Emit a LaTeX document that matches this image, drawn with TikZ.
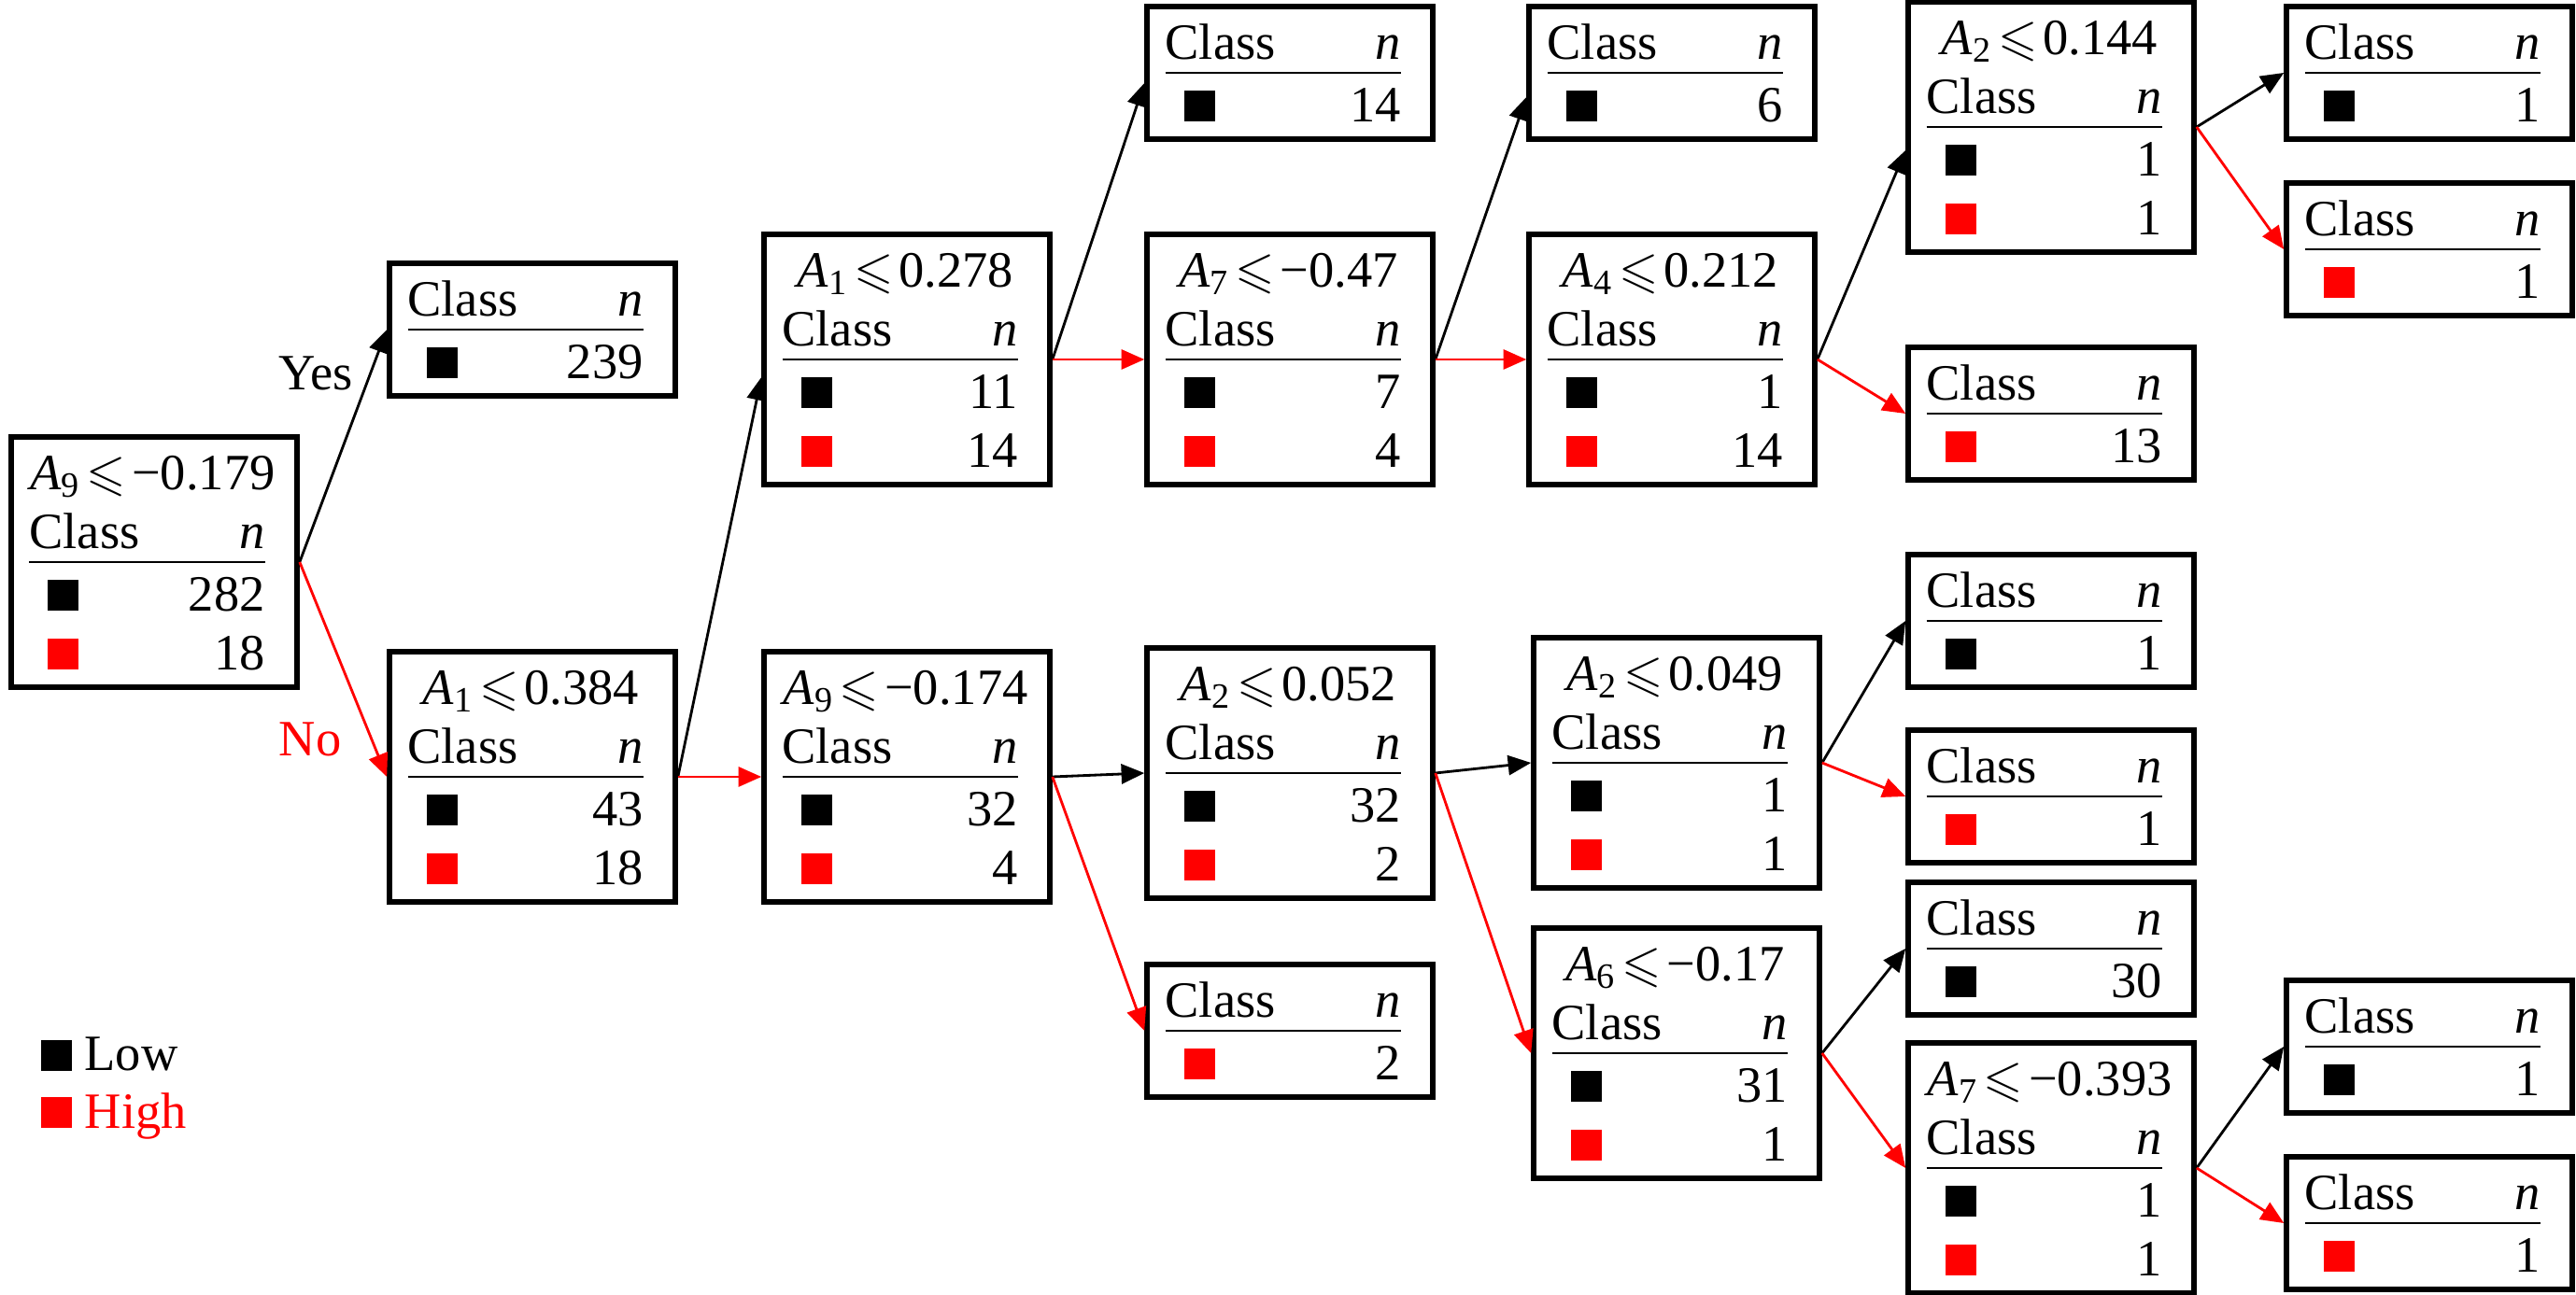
\documentclass[tikz,border=0pt]{standalone}
\usepackage{fontspec}
\setmainfont{Liberation Serif}
\usepackage{amssymb}
\usepackage{tikz}
\usetikzlibrary{arrows.meta}

\setlength{\arrayrulewidth}{0.8pt}
\newcommand{\lowsq}{\rule{0.33cm}{0.33cm}}
\newcommand{\highsq}{\textcolor{red}{\rule{0.33cm}{0.33cm}}}
\newcommand{\topstrut}{\rule{0pt}{16.2pt}}
\newcommand{\rowstrut}{\rule{0pt}{14.5pt}}
\newcommand{\cnd}[2]{\textit{A}\textsubscript{#1}\hspace{0.06cm}$\leqslant$\hspace{0.06cm}#2}
\newcommand{\splitnode}[3]{%
  \begin{tabular*}{2.52cm}{@{}l@{\extracolsep{\fill}}r@{}}
  \multicolumn{2}{@{}c@{}}{\topstrut\makebox[2.52cm][c]{\hspace{0.12cm}#1}}\\
  Class & \textit{n}\\ \noalign{\vskip-0.06cm}\hline
  \rowstrut\hspace*{0.2cm}\lowsq & #2\\
  \hspace*{0.2cm}\highsq & #3
  \end{tabular*}\hspace*{0.15cm}}
\newcommand{\leafnode}[2]{%
  \begin{tabular*}{2.52cm}{@{}l@{\extracolsep{\fill}}r@{}}
  \topstrut Class & \textit{n}\\ \noalign{\vskip-0.06cm}\hline
  \rowstrut\hspace*{0.2cm}#1 & #2
  \end{tabular*}\hspace*{0.15cm}}

\begin{document}
\begin{tikzpicture}[font = \fontsize{15.5}{17.9}\selectfont,
  splitbox/.style = {draw, line width = 1.6pt, inner sep = 0pt,
                     minimum width = 3.06cm, minimum height = 2.57cm},
  leafbox/.style  = {splitbox, minimum height = 1.41cm},
  yesarr/.style   = {-{Triangle[length = 7pt, width = 6pt]}, line width = 0.8pt},
  noarr/.style    = {yesarr, red}]
\useasboundingbox (0,0) rectangle (27.58,13.86);

\node[splitbox] (root) at (1.65,7.84)   {\splitnode{\cnd{9}{−0.179}}{282}{18}};
\node[leafbox]  (c239) at (5.70,10.33)  {\leafnode{\lowsq}{239}};
\node[splitbox] (a1b)  at (5.70,5.54)   {\splitnode{\cnd{1}{0.384}}{43}{18}};
\node[splitbox] (a1a)  at (9.71,10.01)  {\splitnode{\cnd{1}{0.278}}{11}{14}};
\node[splitbox] (a9b)  at (9.71,5.54)   {\splitnode{\cnd{9}{−0.174}}{32}{4}};
\node[leafbox]  (c14)  at (13.81,13.08) {\leafnode{\lowsq}{14}};
\node[splitbox] (a7a)  at (13.81,10.01) {\splitnode{\cnd{7}{−0.47}}{7}{4}};
\node[splitbox] (a2a)  at (13.81,5.58)  {\splitnode{\cnd{2}{0.052}}{32}{2}};
\node[leafbox]  (c2)   at (13.81,2.82)  {\leafnode{\highsq}{2}};
\node[leafbox]  (c6)   at (17.90,13.08) {\leafnode{\lowsq}{6}};
\node[splitbox] (a4)   at (17.90,10.01) {\splitnode{\cnd{4}{0.212}}{1}{14}};
\node[splitbox] (a2b)  at (17.95,5.69)  {\splitnode{\cnd{2}{0.049}}{1}{1}};
\node[splitbox] (a6)   at (17.95,2.58)  {\splitnode{\cnd{6}{−0.17}}{31}{1}};
\node[splitbox] (a2c)  at (21.96,12.50) {\splitnode{\cnd{2}{0.144}}{1}{1}};
\node[leafbox]  (c13)  at (21.96,9.43)  {\leafnode{\highsq}{13}};
\node[leafbox]  (c1a)  at (21.96,7.21)  {\leafnode{\lowsq}{1}};
\node[leafbox]  (c1b)  at (21.96,5.33)  {\leafnode{\highsq}{1}};
\node[leafbox]  (c30)  at (21.96,3.70)  {\leafnode{\lowsq}{30}};
\node[splitbox] (a7b)  at (21.96,1.35)  {\splitnode{\cnd{7}{−0.393}}{1}{1}};
\node[leafbox]  (c1c)  at (26.01,13.08) {\leafnode{\lowsq}{1}};
\node[leafbox]  (c1d)  at (26.01,11.19) {\leafnode{\highsq}{1}};
\node[leafbox]  (c1e)  at (26.01,2.65)  {\leafnode{\lowsq}{1}};
\node[leafbox]  (c1f)  at (26.01,0.76)  {\leafnode{\highsq}{1}};

\node (yes) at (3.38,9.86) {Yes};
\node[red] (no) at (3.32,5.94) {No};

% legend
\node[anchor=base west, inner sep=0pt] (low) at (0.43,2.39) {\lowsq\hspace{0.14cm}Low};
\node[anchor=base west, inner sep=0pt, red] (high) at (0.43,1.78) {\highsq\hspace{0.14cm}High};

\path[yesarr] (root.east) edge (c239.west)
              (a1b.east)  edge ([yshift=-0.19cm]a1a.west)
              (a1a.east)  edge ([yshift=-0.11cm]c14.west)
              (a7a.east)  edge ([yshift=-0.26cm]c6.west)
              (a4.east)   edge ([yshift=-0.25cm]a2c.west)
              (a2c.east)  edge (c1c.west)
              (a9b.east)  edge (a2a.west)
              (a2a.east)  edge (a2b.west)
              (a2b.east)  edge (c1a.west)
              (a6.east)   edge (c30.west)
              (a7b.east)  edge (c1e.west);

\path[noarr] (root.east) edge (a1b.west)
             (a1b.east)  edge (a9b.west)
             (a1a.east)  edge (a7a.west)
             (a7a.east)  edge (a4.west)
             (a4.east)   edge (c13.west)
             (a2c.east)  edge (c1d.west)
             (a9b.east)  edge (c2.west)
             (a2a.east)  edge (a6.west)
             (a2b.east)  edge (c1b.west)
             (a6.east)   edge (a7b.west)
             (a7b.east)  edge (c1f.west);
\end{tikzpicture}
\end{document}
